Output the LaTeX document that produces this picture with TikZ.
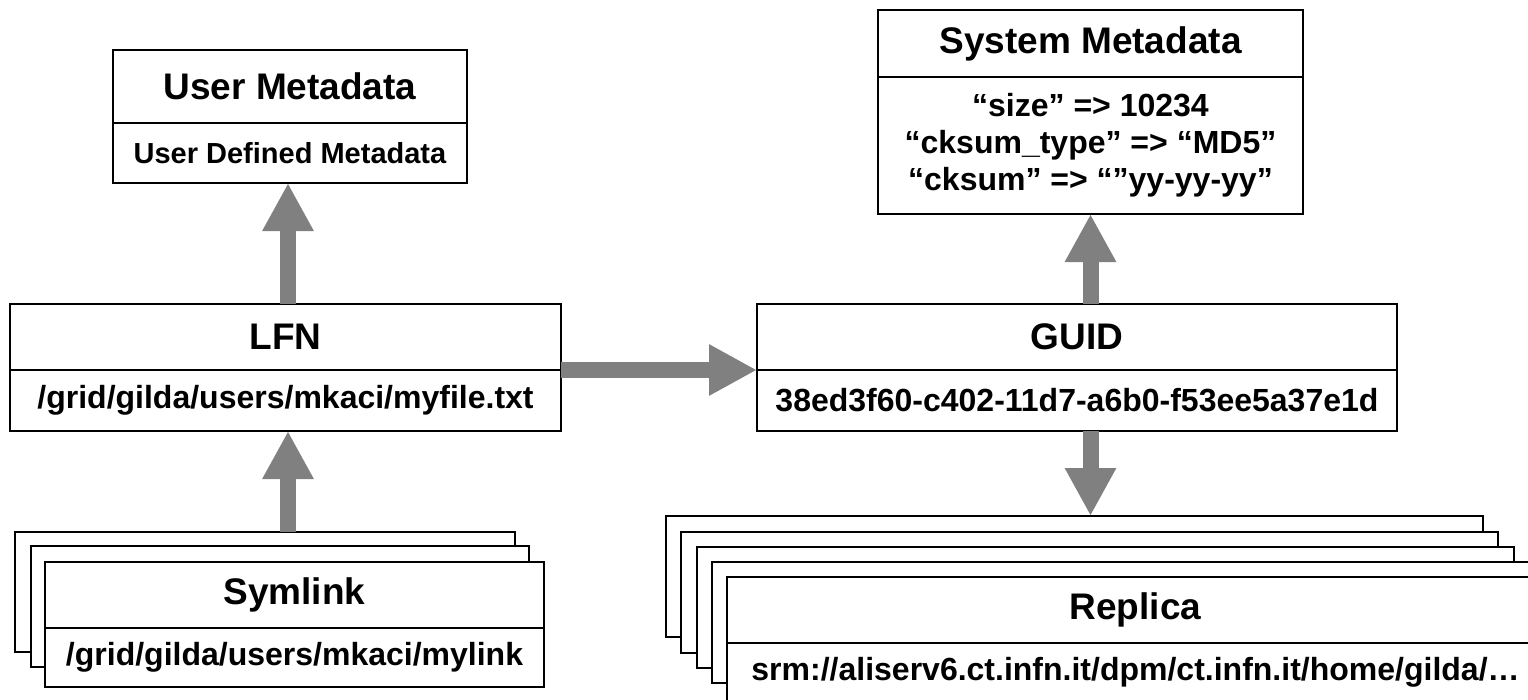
\documentclass[tikz,border=0pt]{standalone}
\usepackage{fontspec}
\setmainfont{Liberation Sans}
\usetikzlibrary{arrows.meta}
\definecolor{arrowgray}{HTML}{808080}
\begin{document}
\begin{tikzpicture}[x=1pt,y=-1pt,
  box/.style={draw=black, line width=1.6pt, fill=white, inner sep=0pt, outer sep=0pt, anchor=north west},
  titletext/.style={font=\fontsize{37}{41}\selectfont\bfseries},
  bodytext/.style={font=\fontsize{32}{37}\selectfont\bfseries, align=center},
  smallbody/.style={font=\fontsize{29}{34}\selectfont\bfseries, align=center},
  bigarrow/.style={draw=arrowgray, line width=16pt, -{Triangle[width=48pt,length=48pt,fill=arrowgray]}}]
\useasboundingbox (0,0) rectangle (1528,699);
\clip (0,0) rectangle (1528,699);

% User Metadata
\node[box, titletext, minimum width=354pt, minimum height=73pt] (umT) at (113,50) {User Metadata};
\node[box, smallbody, minimum width=354pt, minimum height=60pt] (umB) at (113,123) {User Defined Metadata};

% System Metadata
\node[box, titletext, minimum width=425pt, minimum height=67pt] (smT) at (878,10) {System Metadata};
\node[box, bodytext, minimum width=425pt, minimum height=137pt] (smB) at (878,77) {“size” => 10234\\“cksum\_type” => “MD5”\\“cksum” => “”yy-yy-yy”};

% LFN
\node[box, titletext, minimum width=551pt, minimum height=66pt] (lfnT) at (10,304) {LFN};
\node[box, bodytext, minimum width=551pt, minimum height=61pt] (lfnB) at (10,370) {/grid/gilda/users/mkaci/myfile.txt};

% GUID
\node[box, titletext, minimum width=640pt, minimum height=66pt] (guidT) at (757,304) {GUID};
\node[box, bodytext, minimum width=640pt, minimum height=61pt] (guidB) at (757,370) {38ed3f60-c402-11d7-a6b0-f53ee5a37e1d};

% Symlink stack
\node[box, minimum width=500pt, minimum height=120pt] (sym1) at (15,532) {};
\node[box, minimum width=498pt, minimum height=121pt] (sym2) at (31,546) {};
\node[box, titletext, minimum width=499pt, minimum height=66pt] (symT) at (45,562) {Symlink};
\node[box, bodytext, minimum width=499pt, minimum height=59pt] (symB) at (45,628) {/grid/gilda/users/mkaci/mylink};

% Replica stack
\node[box, minimum width=817pt, minimum height=121pt] (rep1) at (666,516) {};
\node[box, minimum width=817pt, minimum height=121pt] (rep2) at (681,532) {};
\node[box, minimum width=817pt, minimum height=121pt] (rep3) at (697,547) {};
\node[box, minimum width=817pt, minimum height=121pt] (rep4) at (712,562) {};
\node[box, titletext, minimum width=817pt, minimum height=66pt] (repT) at (727,577) {Replica};
\node[box, bodytext, minimum width=817pt, minimum height=58pt] (repB) at (727,643) {srm://aliserv6.ct.infn.it/dpm/ct.infn.it/home/gilda/…};

% arrow guide coordinates
\coordinate (ax) at (288,0);
\coordinate (gx) at (1090.5,0);

% arrows
\draw[bigarrow] (ax |- lfnT.north) -- (ax |- umB.south);
\draw[bigarrow] (ax |- sym1.north) -- (ax |- lfnB.south);
\draw[bigarrow] (lfnT.south east) -- (guidT.south west);
\draw[bigarrow] (gx |- guidT.north) -- (gx |- smB.south);
\draw[bigarrow] (gx |- guidB.south) -- (gx |- rep1.north);
\end{tikzpicture}
\end{document}
